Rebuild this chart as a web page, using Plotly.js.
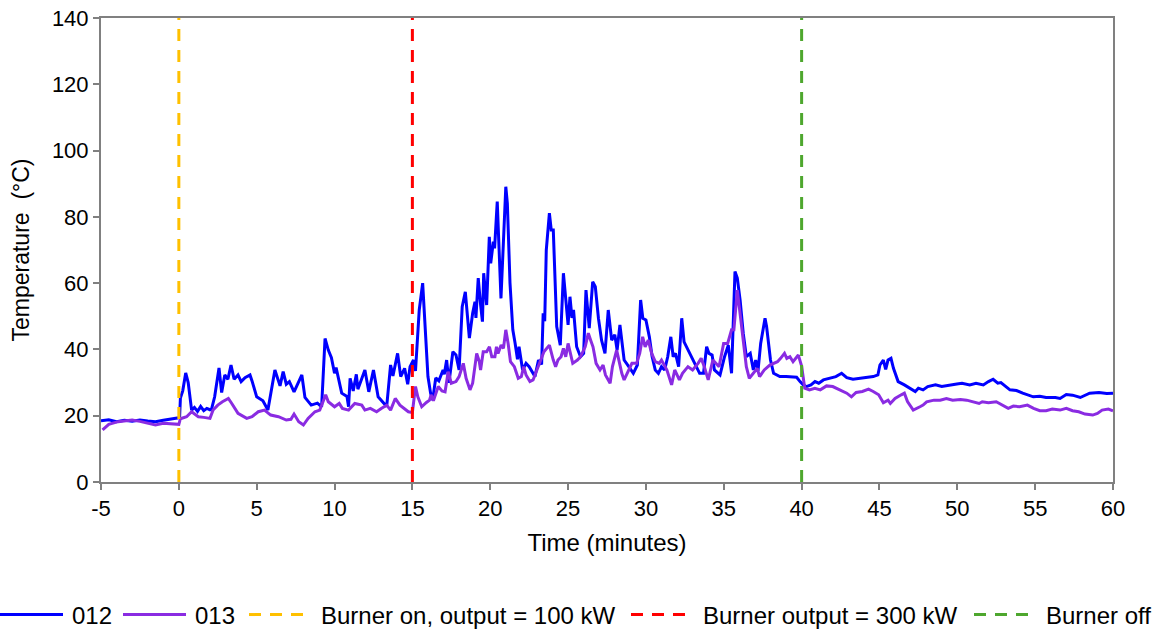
<!DOCTYPE html>
<html>
<head>
<meta charset="utf-8">
<script src="https://cdn.plot.ly/plotly-3.0.1.min.js"></script>
<style>html,body{margin:0;padding:0;background:#fff;}#chart{width:1165px;height:632px;}</style>
</head>
<body>
<div id="chart"></div>
<script>
const time012 = [-5,-4.5,-4,-3.5,-3,-2.5,-2,-1.5,-1,-0.5,-0.1,0.05,0.1,0.25,0.44,0.6,0.82,1.0,1.2,1.4,1.6,1.8,2.0,2.1,2.3,2.58,2.75,2.95,3.15,3.35,3.55,3.8,4.0,4.25,4.57,4.7,5.0,5.4,5.72,6.17,6.5,6.7,6.9,7.1,7.4,7.9,8.1,8.5,8.9,9.17,9.39,9.6,9.8,10.0,10.1,10.46,10.8,10.9,11.0,11.2,11.4,11.5,11.95,12.2,12.5,12.8,13.35,13.6,13.75,14.05,14.25,14.5,14.7,14.85,15.07,15.2,15.44,15.66,15.9,16.0,16.17,16.3,16.5,16.7,16.97,17.05,17.2,17.35,17.6,17.8,18.0,18.2,18.4,18.66,18.87,19.02,19.08,19.23,19.38,19.5,19.58,19.77,19.94,20.03,20.2,20.28,20.45,20.69,21.0,21.1,21.27,21.45,21.6,21.75,21.85,22.08,22.3,22.5,22.87,23.1,23.3,23.4,23.5,23.6,23.8,23.92,24.05,24.27,24.5,24.7,25.0,25.12,25.25,25.35,25.55,25.8,26.0,26.15,26.36,26.58,26.75,26.95,27.15,27.37,27.58,27.8,28.0,28.15,28.33,28.6,28.9,29.19,29.45,29.66,29.8,30.0,30.22,30.4,30.6,30.8,31.0,31.2,31.4,31.6,31.75,31.9,32.1,32.3,32.45,32.8,33.15,33.45,33.7,33.9,34.05,34.25,34.4,34.76,35.05,35.29,35.5,35.72,35.87,36.05,36.25,36.45,36.7,36.9,37.05,37.2,37.37,37.5,37.65,37.75,38.0,38.2,38.6,39.0,39.68,39.9,40.1,40.3,40.6,40.86,41.1,41.4,41.8,42.2,42.57,42.9,43.3,43.9,44.6,44.9,45.03,45.25,45.4,45.55,45.74,45.9,46.2,46.6,47.07,47.3,47.5,47.8,48.1,48.6,49.0,49.5,49.97,50.3,50.8,51.2,51.67,52.0,52.3,52.6,52.8,53.38,53.8,54.2,54.88,55.3,55.7,56.3,56.6,57.0,57.4,57.9,58.5,59.1,59.6,60];
const temp012 = [18.5,18.8,18.2,18.6,18.3,18.7,18.4,18.2,18.6,18.9,19.3,19.6,25.3,27.5,32.9,30,21.7,22.5,21.3,22.8,21.5,22.2,21.8,22.0,25.7,34.4,27.0,32.3,31.0,35.3,31.0,32.3,30.3,31.5,32.3,30.5,25.7,24.5,21.7,33.8,29.0,33.3,29.5,30.3,27.2,32.3,25.5,23.2,23.8,22.7,43.3,39.8,37.5,32.8,34.5,26.8,25.8,22.7,31.3,27.5,32.5,28.0,33.8,27.2,33.8,25.7,22.8,35.3,32,38.8,31.8,34.3,29.5,34.8,36.8,33.5,51.9,60.0,37.8,31.8,26.8,24.7,31.4,30.5,33.8,32.5,36.8,29.9,39.3,38.3,33.8,52.9,57.4,43.4,50.9,54.4,49.5,61.5,53.5,48.4,63.0,53.4,74.0,66.0,72.5,70.5,84.6,55.4,89.1,84.0,60.0,45.9,41.8,37.0,40.8,33.8,35.8,34.8,31.8,36.8,35.5,50.9,48.5,70.0,81.1,76.0,76.0,46.9,41.3,63.0,47.4,55.9,49.5,51.9,40.8,37.8,38.8,57.9,46.4,60.4,58.9,49.4,42.8,38.8,51.9,42.8,44.4,39.8,47.4,36.8,34.8,32.8,35.3,54.9,49.4,48.9,43.8,37.8,33.8,32.8,34.8,33.8,37.8,43.8,37.8,38.8,34.8,49.4,42.3,38.8,35.3,32.8,32.8,40.8,38.8,38.3,33.8,32.3,37.8,41.3,32.8,63.5,61.5,54.9,44.9,37.8,38.8,33.8,36.8,33.5,41.8,44.9,49.4,46.9,36.8,32.8,31.8,31.8,31.6,30.3,29.3,28.8,29.3,30.3,29.8,30.8,31.3,31.8,32.8,31.5,31.0,31.3,31.8,32.3,35.3,36.8,34.0,36.8,37.3,34.3,30.3,29.3,27.8,27.3,28.3,27.8,28.8,29.3,28.8,29.3,29.6,29.8,29.3,29.8,29.3,30.3,31.0,29.8,30.0,27.8,27.6,26.8,25.7,25.9,25.5,25.5,25.2,26.4,26.2,25.5,26.8,27.0,26.7,26.8];

const time013 = [-4.9,-4.5,-3.9,-3.0,-2.5,-2.0,-1.5,-1.0,-0.3,0.0,0.1,0.5,0.82,1.25,1.6,2.0,2.2,2.5,2.8,3.18,3.4,3.8,4.36,4.7,5.1,5.5,5.9,6.4,6.9,7.2,7.4,7.7,8.0,8.3,8.74,9.05,9.26,9.43,9.6,10.0,10.3,10.5,10.9,11.3,11.75,11.95,12.3,12.7,13.0,13.35,13.6,13.9,14.2,14.74,15.0,15.2,15.35,15.6,15.9,16.1,16.2,16.35,16.66,16.9,17.1,17.3,17.5,17.8,18.0,18.27,18.45,18.7,18.87,19.13,19.3,19.38,19.55,19.77,19.95,20.1,20.3,20.4,20.5,20.7,20.85,21.0,21.15,21.3,21.55,21.8,22.0,22.15,22.3,22.55,22.75,23.0,23.2,23.45,23.8,23.92,24.05,24.2,24.35,24.55,24.7,24.85,25.0,25.15,25.3,25.6,25.8,26.1,26.3,26.45,26.6,26.8,27.05,27.25,27.4,27.7,27.85,28.12,28.3,28.45,28.6,28.8,29.1,29.4,29.6,29.79,29.95,30.15,30.37,30.6,30.85,31.0,31.35,31.65,31.85,32.15,32.35,32.7,33.0,33.35,33.55,33.75,34.0,34.3,34.7,34.99,35.25,35.5,35.65,35.87,36.0,36.25,36.45,36.64,36.9,37.15,37.3,37.6,37.96,38.2,38.45,38.65,38.9,39.05,39.25,39.45,39.79,40.0,40.2,40.5,40.85,41.2,41.6,42.0,42.5,42.9,43.2,43.5,43.9,44.3,44.6,44.95,45.25,45.55,45.7,46.0,46.4,46.6,46.8,47.17,47.6,47.8,48.03,48.5,48.9,49.3,49.7,50.2,50.6,51.0,51.4,51.6,52.0,52.5,52.9,53.27,53.6,54.0,54.5,54.9,55.3,55.7,56.1,56.6,57.0,57.4,57.8,58.2,58.7,59.0,59.3,59.7,60.0];
const temp013 = [15.7,17.4,18.2,18.7,18.3,17.7,17.2,17.7,17.4,17.4,19.1,19.7,21.2,19.7,19.5,19.2,21.7,23.2,24.2,25.2,23.7,20.7,19.2,19.7,21.2,21.7,20.2,19.7,18.7,18.9,20.5,18.2,17.2,19.2,21.2,21.7,24.2,26.3,24.2,22.7,23.7,22.2,21.7,23.7,23.2,21.7,22.2,21.2,22.2,23.2,21.7,25.2,23.2,21.2,21.0,28.8,25.7,22.7,24.0,24.7,26.3,24.5,28.8,27.5,27.2,33.3,29.8,30.3,31.8,35.8,31.3,27.8,29.8,38.8,36.3,33.8,39.3,39.3,40.8,37.8,37.8,40.8,38.8,41.3,40.3,45.9,41.8,36.3,34.8,31.3,31.8,34.8,32.3,30.3,30.8,33.8,35.8,39.3,41.3,38.8,36.8,34.8,36.8,37.8,40.3,37.8,41.8,38.8,35.8,36.8,37.8,40.8,44.9,42.8,40.8,35.8,33.8,35.3,32.3,29.8,34.8,39.8,35.8,32.8,30.8,32.8,35.8,35.8,38.8,43.8,40.8,42.8,38.8,36.3,35.8,36.8,33.8,29.3,33.8,30.8,32.8,34.8,33.8,35.8,37.3,34.8,30.8,36.8,34.8,41.8,41.8,45.9,45.9,57.9,52.8,41.8,34.8,31.3,32.8,34.3,31.8,33.8,35.3,35.8,36.3,37.3,38.8,37.3,37.8,36.3,38.3,35.0,28.3,27.8,28.3,27.8,29.0,28.8,27.8,26.8,25.7,27.0,27.3,28.0,27.3,26.3,23.9,24.7,23.7,25.2,26.3,26.8,24.3,21.7,22.7,23.2,24.2,24.7,24.7,25.2,24.7,24.9,24.7,24.2,23.7,24.2,23.9,24.2,23.2,22.2,22.9,22.7,23.2,22.2,21.5,21.5,22.0,21.7,22.2,21.5,21.2,20.5,20.2,20.7,21.7,22.0,21.5];

const eventNames = ["Burner on, output = 100 kW", "Burner output = 300 kW", "Burner off"];
const eventTimes = [0, 15, 40];
const eventColors = ["#FFC000", "#FF0000", "#4EA72E"];
const xTickVals = [-5, 0, 5, 10, 15, 20, 25, 30, 35, 40, 45, 50, 55, 60];
const xTickText = ["-5", "0", "5", "10", "15", "20", "25", "30", "35", "40", "45", "50", "55", "60"];
const yMin = 0, yMax = 140;

const traces = [
  {x: time012, y: temp012, name: "012", type: "scatter", mode: "lines", line: {color: "#0000FF", width: 3}},
  {x: time013, y: temp013, name: "013", type: "scatter", mode: "lines", line: {color: "#8A2BE2", width: 3}}
];
eventTimes.forEach((t, i) => {
  traces.push({x: [t, t], y: [yMin, yMax], name: eventNames[i], type: "scatter", mode: "lines",
    line: {color: eventColors[i], width: 3, dash: "12px,9px"}});
});

const fam = "Liberation Sans, Arial, sans-serif";
const tickFont = {family: fam, size: 22, color: "#000"};
const xTitleFont = {family: fam, size: 24, color: "#000"};
const yTitleFont = {family: fam, size: 23, color: "#000"};
const legFont = {family: fam, size: 24, color: "#000"};
const layout = {
  width: 1165, height: 632,
  margin: {l: 101, r: 52, t: 18, b: 150},
  paper_bgcolor: "#fff", plot_bgcolor: "#fff",
  font: tickFont,
  showlegend: true,
  legend: {orientation: "h", x: 0.5, xanchor: "center", xref: "container", y: 0.027, yref: "container", yanchor: "middle", font: legFont, itemwidth: 30, tracegroupgap: 0, bgcolor: "rgba(0,0,0,0)"},
  xaxis: {range: [-5, 60], tickmode: "array", tickvals: xTickVals, ticktext: xTickText, showgrid: false, zeroline: false, showline: true, linecolor: "#808080", linewidth: 2, mirror: true,
    ticks: "outside", ticklen: 6, tickwidth: 2, tickcolor: "#808080", tickfont: tickFont,
    title: {text: "Time (minutes)", font: xTitleFont, standoff: 14}},
  yaxis: {range: [yMin, yMax], dtick: 20, showgrid: false, zeroline: false, showline: true, linecolor: "#808080", linewidth: 2, mirror: true,
    ticks: "outside", ticklen: 6, tickwidth: 2, tickcolor: "#808080", tickfont: tickFont,
    title: {text: "Temperature  (°C)", font: yTitleFont, standoff: 16}}
};

// legend item placement (line start in page pixels), matching the reference layout
const legendLineStart = [0, 123, 249, 631, 974];
const legendLineLen = 63;
const legendTextGap = 9;

Plotly.newPlot("chart", traces, layout, {displayModeBar: false, staticPlot: true}).then(() => {
  const leg = document.querySelector(".legend");
  if (!leg) return;
  leg.querySelectorAll("[clip-path]").forEach(el => el.removeAttribute("clip-path"));
  const chartBox = document.getElementById("chart").getBoundingClientRect();
  const items = leg.querySelectorAll("g.traces");
  items.forEach((g, i) => {
    const tr = g.getAttribute("transform") || "";
    const m = tr.match(/translate\(([-\d.]+)[ ,]+([-\d.]+)\)/);
    const ty = m ? parseFloat(m[2]) : 0;
    const p = g.querySelector(".legendlines path");
    g.setAttribute("transform", "translate(0," + ty + ")");
    if (p) p.setAttribute("d", "M5,0h" + legendLineLen);
    const originX = (p ? p.getBoundingClientRect().left : g.getBoundingClientRect().left) - chartBox.left - 5;
    const newX = legendLineStart[i] - originX - 5;
    g.setAttribute("transform", "translate(" + newX + "," + ty + ")");
    const t = g.querySelector("text.legendtext");
    if (t) t.setAttribute("x", 5 + legendLineLen + legendTextGap);
  });
});
</script>
</body>
</html>
